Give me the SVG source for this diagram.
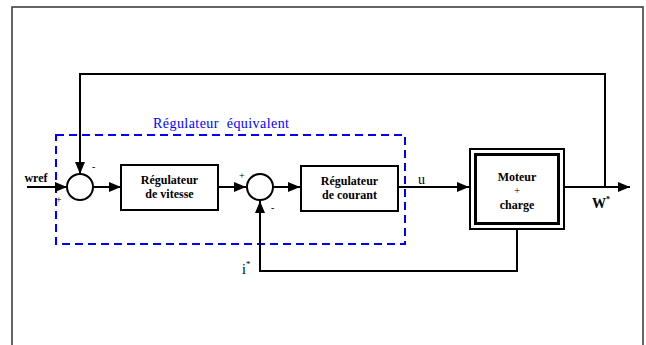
<svg xmlns="http://www.w3.org/2000/svg" width="646" height="345" viewBox="0 0 646 345">
  <style>
    .frame { fill: #fff; stroke: #333; stroke-width: 1.5; }
    .blk { fill: #fff; stroke: #000; stroke-width: 2; }
    .sum { fill: #fff; stroke: #000; stroke-width: 2; }
    .wire { fill: none; stroke: #000; stroke-width: 2; }
    .lbl { font-family: "Liberation Serif", "Times New Roman", serif; font-weight: bold; font-size: 12px; fill: #000; text-anchor: middle; }
    .sign { font-family: "Liberation Serif", "Times New Roman", serif; font-size: 10px; fill: #000; }
    .txt { font-family: "Liberation Serif", "Times New Roman", serif; font-size: 14px; fill: #000; }
    .blue { font-family: "Liberation Serif", "Times New Roman", serif; font-size: 14px; fill: #0000ff; }
  </style>
  <defs>
    <marker id="arrow" viewBox="0 0 12 10" refX="12" refY="5" markerWidth="12" markerHeight="10" markerUnits="userSpaceOnUse" orient="auto">
      <path d="M0,0 L12,5 L0,10 Z" fill="#000"/>
    </marker>
  </defs>

  <rect x="0" y="0" width="646" height="345" fill="#fff"/>
  <rect class="frame" x="12" y="7" width="631" height="345"/>

  <!-- equivalent controller boundary -->
  <g id="equivalent">
    <rect x="56" y="135" width="349" height="109" fill="none" stroke="#0000ff" stroke-width="2" stroke-dasharray="8,5"/>
    <text class="blue" x="153" y="128" textLength="136" lengthAdjust="spacing" xml:space="preserve">Régulateur  équivalent</text>
  </g>

  <!-- connectors -->
  <g id="connectors">
    <line class="wire" x1="27" y1="187" x2="67" y2="187" marker-end="url(#arrow)"/>
    <polyline class="wire" points="605,187 605,74 80,74 80,174" marker-end="url(#arrow)"/>
    <line class="wire" x1="93" y1="187" x2="121" y2="187" marker-end="url(#arrow)"/>
    <line class="wire" x1="218" y1="187" x2="246" y2="187" marker-end="url(#arrow)"/>
    <line class="wire" x1="272" y1="187" x2="300" y2="187" marker-end="url(#arrow)"/>
    <line class="wire" x1="399" y1="187" x2="469" y2="187" marker-end="url(#arrow)"/>
    <line class="wire" x1="564" y1="187" x2="630" y2="187" marker-end="url(#arrow)"/>
    <polyline class="wire" points="517,229 517,271 260,271 260,201" marker-end="url(#arrow)"/>
  </g>

  <g id="sum1">
    <circle class="sum" cx="80" cy="187" r="13"/>
    <text class="sign" x="56" y="203">+</text>
    <text class="sign" x="92" y="170">-</text>
  </g>

  <g id="reg-vitesse">
    <rect class="blk" x="121" y="165" width="97" height="45"/>
    <text class="lbl" x="169.5" y="184">Régulateur</text>
    <text class="lbl" x="169.5" y="198">de vitesse</text>
  </g>

  <g id="sum2">
    <circle class="sum" cx="260" cy="187" r="13"/>
    <text class="sign" x="239" y="179">+</text>
    <text class="sign" x="271" y="211">-</text>
  </g>

  <g id="reg-courant">
    <rect class="blk" x="301" y="166" width="97" height="45"/>
    <text class="lbl" x="349.5" y="185">Régulateur</text>
    <text class="lbl" x="349.5" y="199">de courant</text>
  </g>

  <g id="moteur">
    <rect x="470" y="149" width="94" height="80" fill="#fff" stroke="#000" stroke-width="2"/>
    <rect x="475.5" y="154.5" width="83" height="69" fill="none" stroke="#000" stroke-width="3"/>
    <text class="lbl" x="517" y="181">Moteur</text>
    <text class="lbl" x="517" y="194" style="font-weight:normal;font-size:11px">+</text>
    <text class="lbl" x="517" y="209">charge</text>
  </g>

  <!-- signal labels -->
  <g id="labels">
    <text class="lbl" x="36" y="182">wref</text>
    <text class="txt" x="418" y="184">u</text>
    <text x="592" y="208" style="font-family:'Liberation Serif',serif;font-weight:bold;font-size:14px">W<tspan dy="-6" font-size="8">*</tspan></text>
    <text class="txt" x="242" y="274">i<tspan dy="-7" font-size="9">*</tspan></text>
  </g>
</svg>
